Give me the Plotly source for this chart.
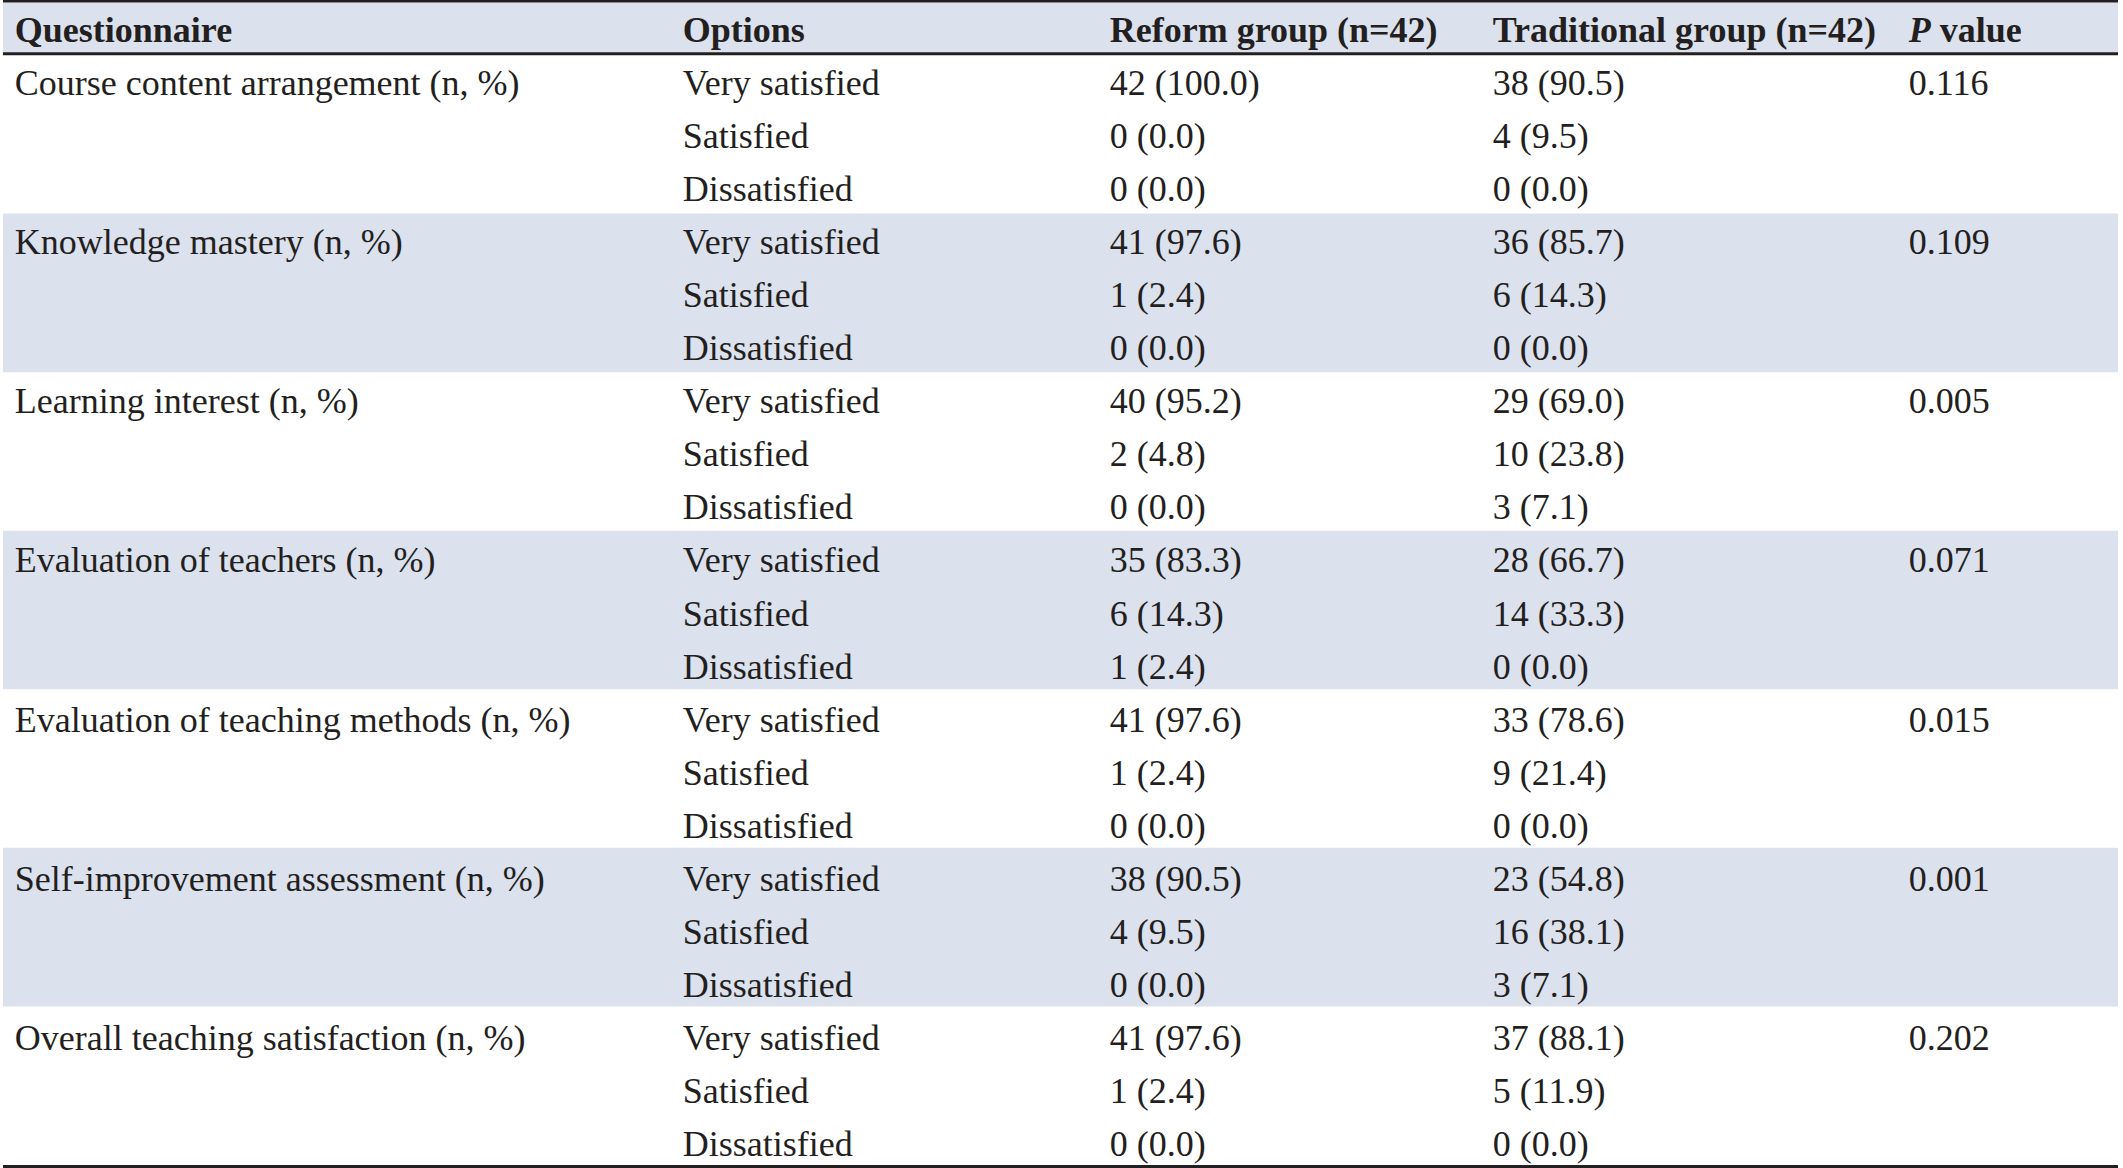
import plotly.graph_objects as go

# table content
headers = ["Questionnaire", "Options", "Reform group (n=42)",
           "Traditional group (n=42)", "<i>P</i> value"]
questions = [
    "Course content arrangement (n, %)",
    "Knowledge mastery (n, %)",
    "Learning interest (n, %)",
    "Evaluation of teachers (n, %)",
    "Evaluation of teaching methods (n, %)",
    "Self-improvement assessment (n, %)",
    "Overall teaching satisfaction (n, %)",
]
options = ["Very satisfied", "Satisfied", "Dissatisfied"]
reform_n = [[42, 0, 0], [41, 1, 0], [40, 2, 0], [35, 6, 1], [41, 1, 0], [38, 4, 0], [41, 1, 0]]
reform_pct = [[100.0, 0.0, 0.0], [97.6, 2.4, 0.0], [95.2, 4.8, 0.0], [83.3, 14.3, 2.4],
              [97.6, 2.4, 0.0], [90.5, 9.5, 0.0], [97.6, 2.4, 0.0]]
trad_n = [[38, 4, 0], [36, 6, 0], [29, 10, 3], [28, 14, 0], [33, 9, 0], [23, 16, 3], [37, 5, 0]]
trad_pct = [[90.5, 9.5, 0.0], [85.7, 14.3, 0.0], [69.0, 23.8, 7.1], [66.7, 33.3, 0.0],
            [78.6, 21.4, 0.0], [54.8, 38.1, 7.1], [88.1, 11.9, 0.0]]
p_values = ["0.116", "0.109", "0.005", "0.071", "0.015", "0.001", "0.202"]

# layout (pixel units)
W, H = 2123, 1168
col_x = [10, 678, 1105, 1488, 1904]
left, right = 3, 2118
head_top, head_bot = 2.5, 52.5
body_top, body_bot = 55, 1165
n_rows = len(questions) * len(options)
row_h = (body_bot - body_top) / n_rows
text_pitch = 53.05
ink = "#231f20"
band = "#dbe1ed"
font = dict(family="Liberation Serif", size=36, color=ink)

# build the cell columns
col_q, col_o, col_r, col_t, col_p, row_y = [], [], [], [], [], []
for g, q in enumerate(questions):
    for k, opt in enumerate(options):
        i = g * len(options) + k
        row_y.append(body_top + 31 + i * text_pitch)
        col_q.append(q if k == 0 else "")
        col_o.append(opt)
        col_r.append(f"{reform_n[g][k]} ({reform_pct[g][k]:.1f})")
        col_t.append(f"{trad_n[g][k]} ({trad_pct[g][k]:.1f})")
        col_p.append(p_values[g] if k == 0 else "")

fig = go.Figure()

for x, texts in zip(col_x, [col_q, col_o, col_r, col_t, col_p]):
    fig.add_trace(go.Scatter(
        x=[x] * len(texts), y=row_y, text=texts, mode="markers+text",
        marker=dict(size=0, opacity=0), textposition="middle right",
        textfont=font, hoverinfo="skip", showlegend=False))

fig.add_trace(go.Scatter(
    x=col_x, y=[33] * len(headers), text=[f"<b>{h}</b>" for h in headers],
    mode="markers+text", marker=dict(size=0, opacity=0),
    textposition="middle right", textfont=font, hoverinfo="skip", showlegend=False))

shapes = [dict(type="rect", xref="x", yref="y", x0=left, x1=right, y0=head_top, y1=head_bot,
               fillcolor=band, line_width=0, layer="below")]
for g in range(1, len(questions), 2):
    y0 = body_top + g * len(options) * row_h
    shapes.append(dict(type="rect", xref="x", yref="y", x0=left, x1=right,
                       y0=y0, y1=y0 + len(options) * row_h,
                       fillcolor=band, line_width=0, layer="below"))
for y, w in [(1.2, 2.5), (53.7, 3), (1166.5, 3)]:
    shapes.append(dict(type="line", xref="x", yref="y", x0=left, x1=right, y0=y, y1=y,
                       line=dict(color=ink, width=w)))

fig.update_layout(
    width=W, height=H, margin=dict(l=0, r=0, t=0, b=0),
    paper_bgcolor="white", plot_bgcolor="white", shapes=shapes,
    xaxis=dict(range=[0, W], visible=False, fixedrange=True),
    yaxis=dict(range=[H, 0], visible=False, fixedrange=True),
)

# drop the default page margin so the figure sits at the window corner
fig.write_html("out.html", config=dict(displayModeBar=False),
               post_script="document.body.style.margin='0';document.body.style.overflow='hidden';")
